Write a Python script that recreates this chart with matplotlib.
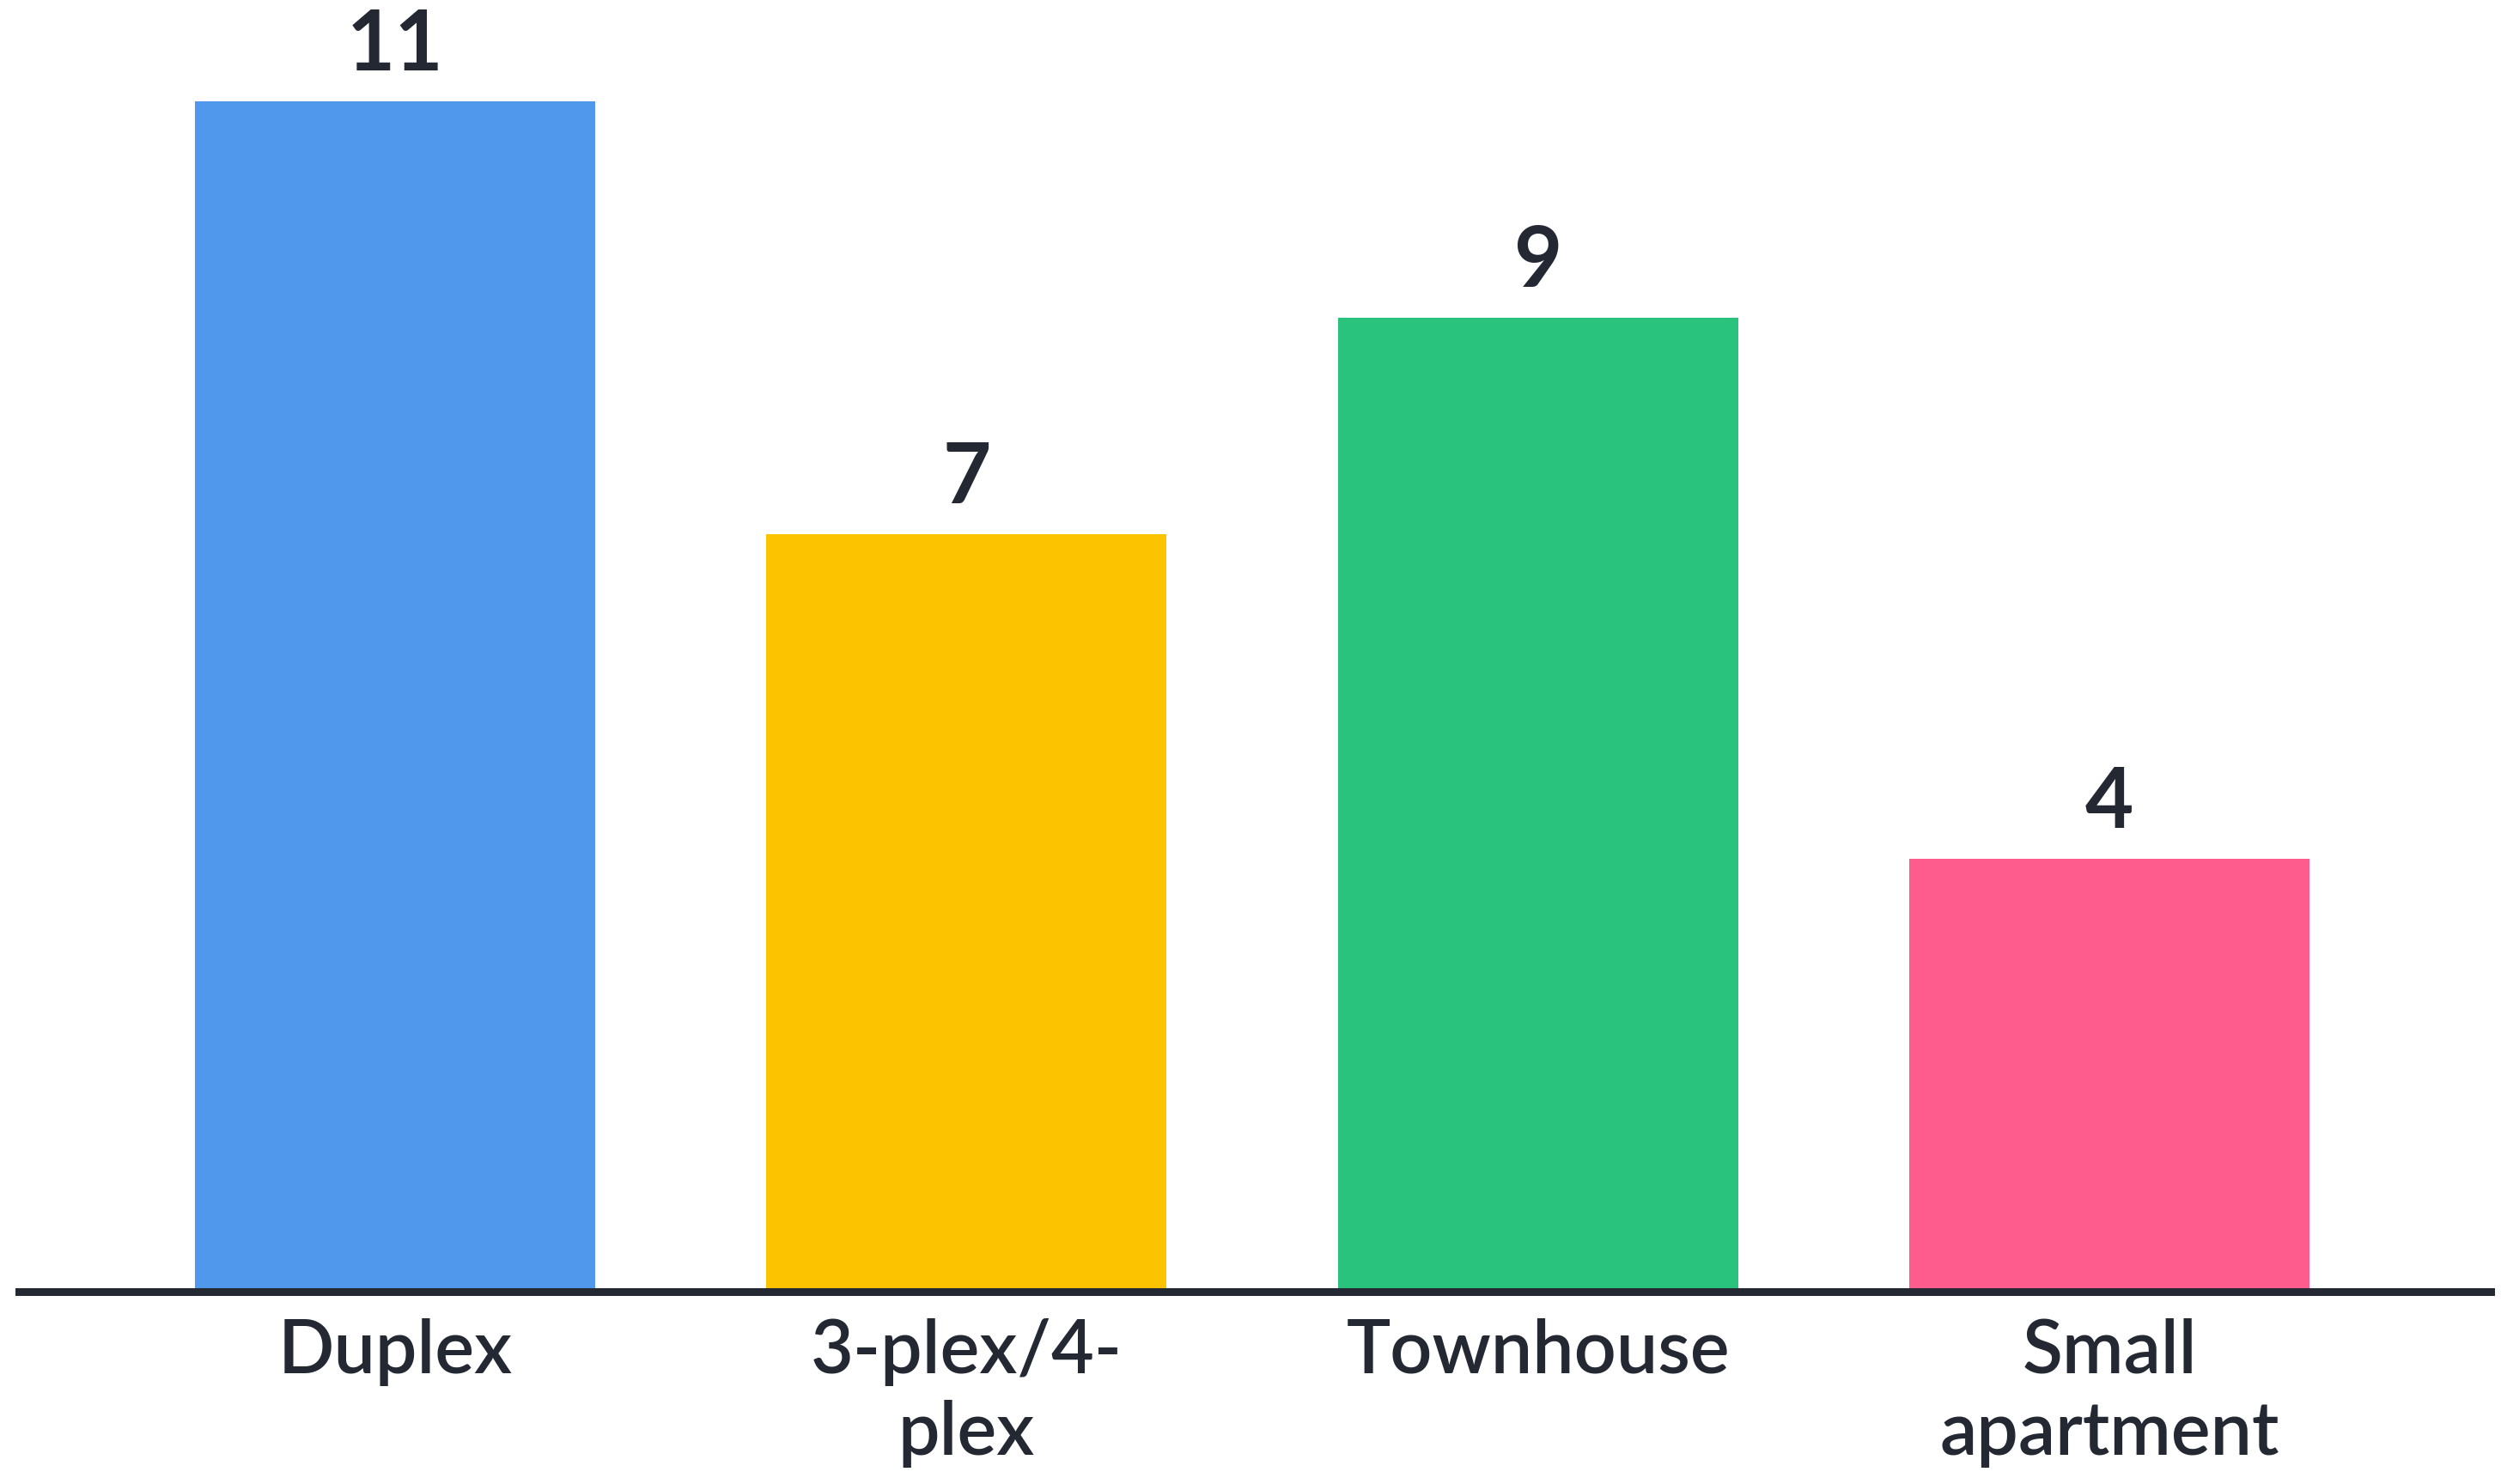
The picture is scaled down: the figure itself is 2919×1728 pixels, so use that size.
import matplotlib.pyplot as plt

categories = ["Duplex", "3-plex/4-\nplex", "Townhouse", "Small\napartment"]
counts = [11, 7, 9, 4]
bar_colors = ["#4f98ec", "#fcc300", "#29c37e", "#ff5c8e"]

text_color = "#232833"
plt.rcParams['font.family'] = ['Lato', 'DejaVu Sans']

fig = plt.figure(figsize=(29.19, 17.28), dpi=100)
ax = fig.add_axes([0.0075, 0.1296, 0.986, 0.8704])

x = range(len(categories))
bars = ax.bar(x, counts, width=0.7, color=bar_colors)

# value above each bar
for rect, val in zip(bars, counts):
    ax.text(rect.get_x() + rect.get_width() / 2, val + 0.16, str(val),
            ha='center', va='bottom', fontsize=70, fontweight='bold',
            color=text_color)

ax.set_xlim(-0.658, 3.667)
ax.set_ylim(0, 11.94)

ax.set_xticks(list(x))
ax.set_xticklabels(categories, fontsize=62, color=text_color,
                   fontweight='semibold', linespacing=1.25)
ax.tick_params(axis='x', length=0, pad=22)
ax.set_yticks([])

for side in ['top', 'left', 'right']:
    ax.spines[side].set_visible(False)
ax.spines['bottom'].set_linewidth(6.5)
ax.spines['bottom'].set_color(text_color)

fig.savefig('out.png', dpi=100, facecolor='white')
